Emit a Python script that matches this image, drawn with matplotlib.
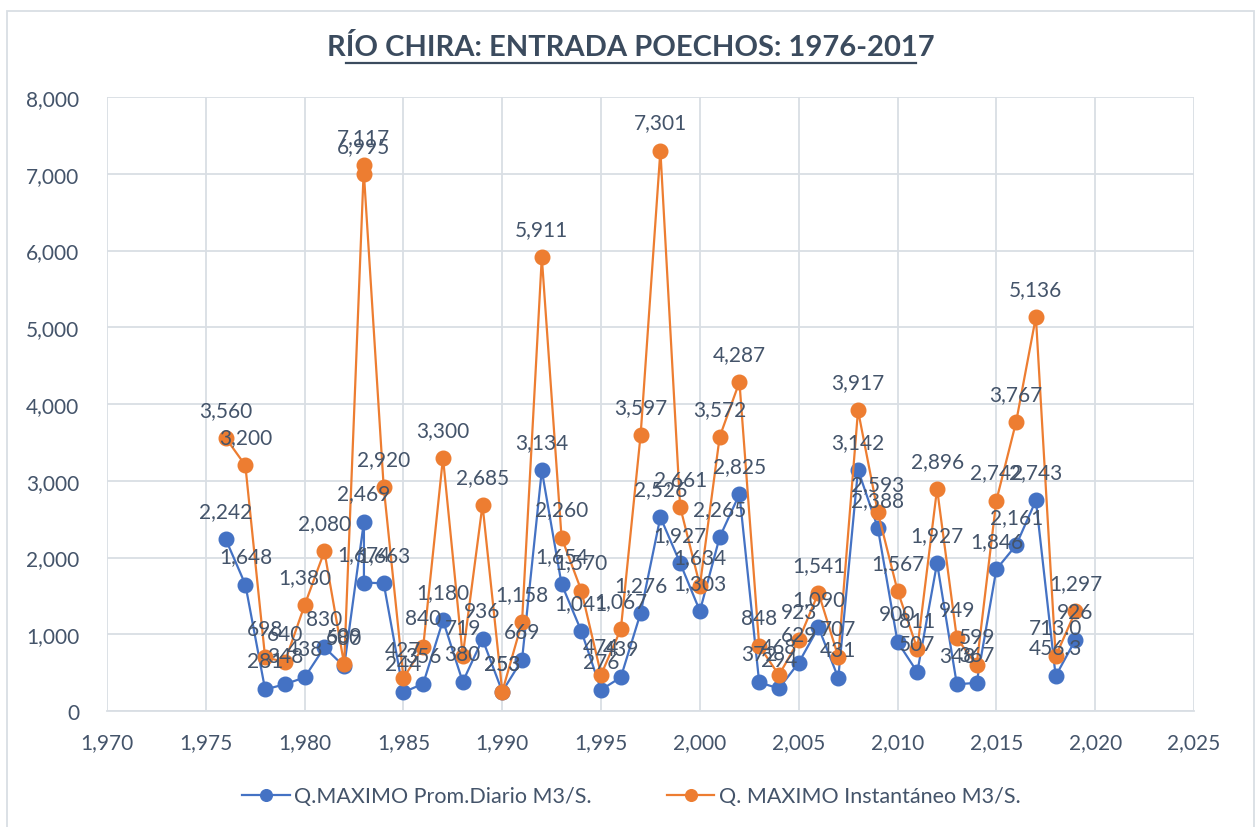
import matplotlib.pyplot as plt
from matplotlib.patches import Rectangle
from matplotlib.ticker import FuncFormatter, MultipleLocator

# Caudales máximos anuales, río Chira en la entrada a Poechos
years = [1976, 1977, 1978, 1979, 1980, 1981, 1982, 1983, 1983, 1984,
         1985, 1986, 1987, 1988, 1989, 1990, 1991, 1992, 1993, 1994,
         1995, 1996, 1997, 1998, 1999, 2000, 2001, 2002, 2003, 2004,
         2005, 2006, 2007, 2008, 2009, 2010, 2011, 2012, 2013, 2014,
         2015, 2016, 2017, 2018, 2019]
q_diario = [2242, 1648, 281, 348, 438, 830, 580, 2469, 1674, 1663,
            244, 356, 1180, 380, 936, 253, 669, 3134, 1654, 1041,
            276, 439, 1276, 2526, 1927, 1303, 2265, 2825, 372, 294,
            629, 1090, 431, 3142, 2388, 900, 507, 1927, 348, 367,
            1846, 2161, 2743, 456.3, 926]
q_instant = [3560, 3200, 698, 640, 1380, 2080, 609, 7117, 6995, 2920,
             427, 840, 3300, 719, 2685, 253, 1158, 5911, 2260, 1570,
             474, 1067, 3597, 7301, 2661, 1634, 3572, 4287, 848, 468,
             923, 1541, 707, 3917, 2593, 1567, 811, 2896, 949, 599,
             2742, 3767, 5136, 713.0, 1297]
# años cuyo dato viene con un decimal
years_decimal = [2018]

BLUE = '#4472C4'
ORANGE = '#ED7D31'
TXT = '#44546A'
GRID = '#D9DEE4'

plt.rcParams['font.family'] = ['Lato', 'DejaVu Sans']

fig = plt.figure(figsize=(12.58, 8.28), dpi=100)
# marco del área del gráfico
fig.add_artist(Rectangle((7 / 1258, -0.01), 1247 / 1258, 0.003 + (822 / 828),
                         transform=fig.transFigure, fill=False, ec=GRID, lw=1.3))
ax = fig.add_axes([107 / 1258, 116 / 828, 1087 / 1258, 614 / 828])


def fmt_label(year, v):
    if year in years_decimal:
        return f'{v:,.1f}'
    return f'{int(v):,}'


ax.plot(years, q_diario, color=BLUE, lw=1.6, marker='o', ms=10.5,
        label='Q.MAXIMO Prom.Diario M3/S.', zorder=3)
ax.plot(years, q_instant, color=ORANGE, lw=1.6, marker='o', ms=10.5,
        label='Q. MAXIMO Instantáneo M3/S.', zorder=3)

for x, yb, yo in zip(years, q_diario, q_instant):
    for y in (yb, yo):
        ax.annotate(fmt_label(x, y), (x, y), xytext=(0, 13), textcoords='offset points',
                    ha='center', va='bottom', fontsize=15, color=TXT, zorder=4)

ax.set_xlim(1970, 2025)
ax.set_ylim(0, 8000)
ax.xaxis.set_major_locator(MultipleLocator(5))
ax.yaxis.set_major_locator(MultipleLocator(1000))
comma = FuncFormatter(lambda v, p: f'{int(v):,}')
ax.xaxis.set_major_formatter(comma)
ax.yaxis.set_major_formatter(comma)
ax.tick_params(length=0, labelsize=15, labelcolor=TXT)
ax.tick_params(axis='y', pad=20)
ax.tick_params(axis='x', pad=15)

ax.grid(True, color=GRID, lw=1.3)
ax.set_axisbelow(True)
for side in ('top', 'right', 'left'):
    ax.spines[side].set_visible(False)
ax.spines['bottom'].set_color(GRID)
ax.spines['bottom'].set_linewidth(1.3)

fig.text(0.5015, 0.943, 'RÍO CHIRA: ENTRADA POECHOS: 1976-2017', ha='center', va='center',
         fontsize=21, fontweight='bold', color='#3B4B5E')
# subrayado del título
fig.add_artist(plt.Line2D([346 / 1258, 916 / 1258], [0.923, 0.923], color='#3B4B5E', lw=1.6))

fig.legend(loc='center', bbox_to_anchor=(0.502, 0.037), ncol=2, frameon=False,
           fontsize=15.5, labelcolor=TXT, handlelength=2.2, handletextpad=0.2,
           columnspacing=3.5, markerscale=0.8)

fig.savefig('out.png', dpi=100)
